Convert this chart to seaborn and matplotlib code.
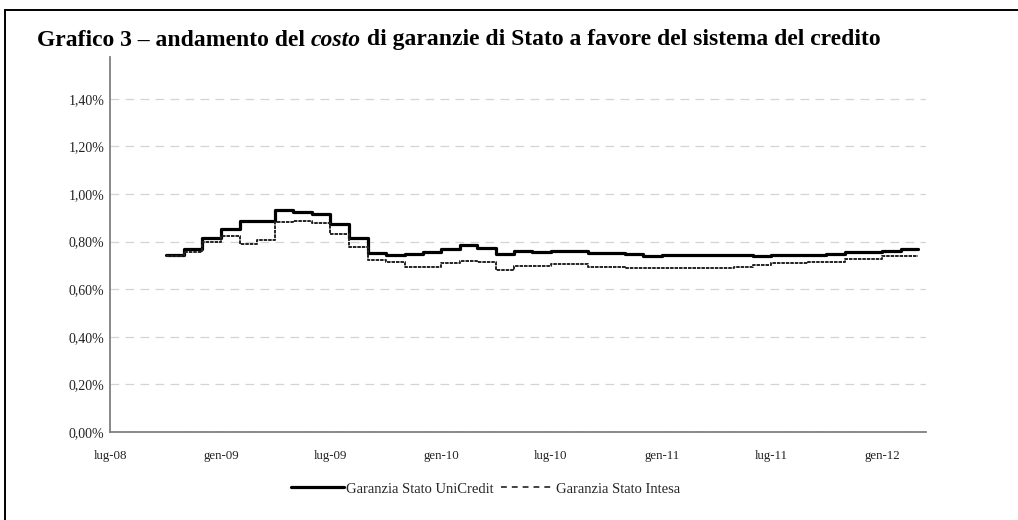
import matplotlib
matplotlib.use("Agg")
import matplotlib.pyplot as plt
from matplotlib.lines import Line2D
import pandas as pd
import seaborn as sns

# Monthly cost of state guarantees (% of guaranteed amount), Oct 2008 - Feb 2012;
# the final entry closes the last monthly step.
months = pd.date_range("2008-10-01", "2012-03-01", freq="MS")
unicredit = [
    0.744, 0.770, 0.815,
    0.855, 0.887, 0.887, 0.933, 0.924, 0.916, 0.874, 0.815, 0.753, 0.745, 0.747, 0.758,
    0.768, 0.786, 0.772, 0.748, 0.762, 0.755, 0.762, 0.762, 0.751, 0.751, 0.747, 0.740,
    0.745, 0.745, 0.745, 0.745, 0.745, 0.738, 0.744, 0.744, 0.744, 0.750, 0.755, 0.755,
    0.762, 0.768, 0.768,
]
intesa = [
    0.738, 0.756, 0.800,
    0.823, 0.792, 0.807, 0.882, 0.885, 0.878, 0.833, 0.778, 0.723, 0.713, 0.695, 0.695,
    0.709, 0.720, 0.713, 0.681, 0.699, 0.699, 0.705, 0.705, 0.695, 0.695, 0.688, 0.688,
    0.688, 0.688, 0.688, 0.688, 0.692, 0.702, 0.712, 0.712, 0.716, 0.716, 0.726, 0.726,
    0.740, 0.740, 0.740,
]
series_names = ["Garanzia Stato UniCredit", "Garanzia Stato Intesa"]

x_tick_dates = pd.to_datetime(["2008-07-01", "2009-01-01", "2009-07-01", "2010-01-01",
                               "2010-07-01", "2011-01-01", "2011-07-01", "2012-01-01"])
x_tick_labels = ["lug-08", "gen-09", "lug-09", "gen-10", "lug-10", "gen-11", "lug-11", "gen-12"]
y_tick_values = [0.0, 0.2, 0.4, 0.6, 0.8, 1.0, 1.2, 1.4]
y_tick_labels = ["0,00%", "0,20%", "0,40%", "0,60%", "0,80%", "1,00%", "1,20%", "1,40%"]

title_parts = ["Grafico 3 \u2013 andamento del ", "costo",
               " di garanzie di Stato a favore del sistema del credito"]

df = pd.DataFrame({"mese": months, series_names[0]: unicredit, series_names[1]: intesa})

sns.set_theme(style="white")
plt.rcParams["font.family"] = ["Liberation Serif", "DejaVu Serif"]

W, H = 1018, 520
fig = plt.figure(figsize=(W / 100, H / 100), dpi=100)
fig.patch.set_facecolor("white")

# plot area in pixel terms
left, right, top, bottom = 110, 926, 57, 432
ax = fig.add_axes([left / W, 1 - bottom / H, (right - left) / W, (bottom - top) / H])

sns.lineplot(data=df, x="mese", y=series_names[0], ax=ax, color="black",
             linewidth=2.3, drawstyle="steps-post", legend=False)
sns.lineplot(data=df, x="mese", y=series_names[1], ax=ax, color="#222222",
             linewidth=1.4, drawstyle="steps-post", legend=False)
ax.lines[1].set_dashes((1.8, 0.5))

ax.set_xlim(pd.Timestamp("2008-07-01"), pd.Timestamp("2012-03-14"))
ax.set_ylim(0, 1.576)
ax.set_xticks(x_tick_dates)
ax.set_xticklabels(x_tick_labels, fontsize=9.3)
ax.set_yticks(y_tick_values)
ax.set_yticklabels(y_tick_labels, fontsize=10)
ax.set_xlabel("")
ax.set_ylabel("")

ax.yaxis.grid(True, color="#d4d4d4", linestyle=(0, (7, 5)), linewidth=0.9)
ax.xaxis.grid(False)
ax.set_axisbelow(True)

for side in ("top", "right"):
    ax.spines[side].set_visible(False)
for side in ("left", "bottom"):
    ax.spines[side].set_color("#7f7f7f")
    ax.spines[side].set_linewidth(1.3)

ax.tick_params(axis="both", which="major", direction="out", length=3, width=1.0,
               color="#7f7f7f", labelcolor="#222222")
ax.tick_params(axis="x", pad=10)
ax.tick_params(axis="y", pad=1)

# legend below the plot
handles = [
    Line2D([], [], color="black", linewidth=2.3),
    Line2D([], [], color="#222222", linewidth=1.2, dashes=(3.5, 3)),
]
fig.legend(handles, series_names, loc="center", bbox_to_anchor=(0.477, 1 - 489 / H),
           ncol=2, frameon=False, fontsize=10.5, handlelength=3.6, handletextpad=0.15,
           columnspacing=0.5)

# title with the italic word
fig.canvas.draw()
renderer = fig.canvas.get_renderer()
x0 = 37
ty = 1 - 40 / H
styles = ["normal", "italic", "normal"]
for part, st in zip(title_parts, styles):
    t = fig.text(x0 / W, ty, part, fontsize=17, fontweight="bold", fontstyle=st,
                 va="center", ha="left", color="black")
    bb = t.get_window_extent(renderer=renderer)
    x0 = bb.x1

# outer frame (top and left edges)
fig.add_artist(Line2D([5 / W, 1], [1 - 10 / H, 1 - 10 / H], transform=fig.transFigure,
                      color="black", linewidth=1.4))
fig.add_artist(Line2D([5 / W, 5 / W], [0, 1 - 10 / H], transform=fig.transFigure,
                      color="black", linewidth=1.4))

fig.savefig("out.png", dpi=100, facecolor="white")
